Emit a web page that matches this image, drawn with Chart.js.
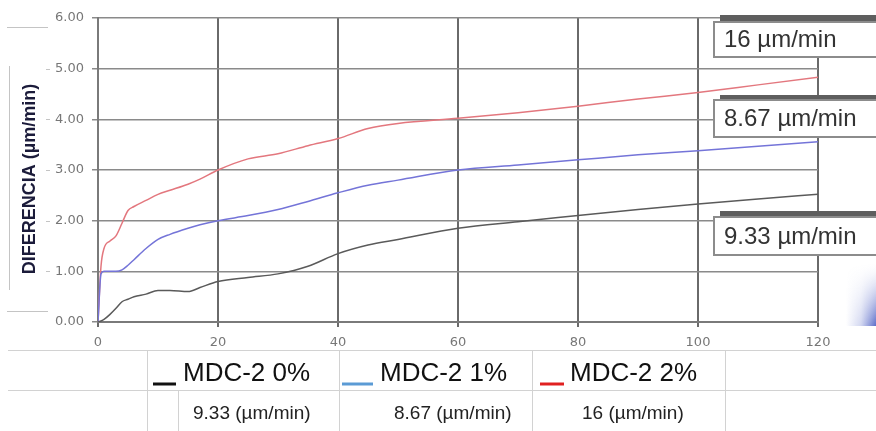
<!DOCTYPE html>
<html>
<head>
<meta charset="utf-8">
<script src="https://cdn.jsdelivr.net/npm/chart.js@4.4.1/dist/chart.umd.min.js"></script>
<style>
  html, body { margin: 0; padding: 0; background: #fff; }
  #wrap { width: 876px; height: 431px; }
</style>
</head>
<body>
<div id="wrap"><canvas id="chart" width="876" height="431"></canvas></div>
<script>
// minutes sampled along the curves
const minutes = [0, 0.5, 1, 2, 3, 4, 5, 6, 8, 10, 12, 15, 17, 20, 25, 30, 35, 40, 45, 50, 60, 70, 80, 90, 100, 110, 120];

// DIFERENCIA (µm/min) per series
const mdc0 = [0, 0.02, 0.05, 0.15, 0.27, 0.4, 0.45, 0.5, 0.55, 0.62, 0.62, 0.6, 0.68, 0.8, 0.88, 0.95, 1.1, 1.35, 1.52, 1.63, 1.85, 1.98, 2.1, 2.22, 2.33, 2.43, 2.52];
const mdc1 = [0, 0.95, 1.0, 1.0, 1.0, 1.03, 1.12, 1.23, 1.45, 1.63, 1.73, 1.85, 1.92, 2.0, 2.1, 2.22, 2.38, 2.55, 2.7, 2.8, 3.0, 3.1, 3.2, 3.3, 3.38, 3.47, 3.56];
const mdc2 = [0, 1.1, 1.45, 1.6, 1.7, 1.95, 2.2, 2.28, 2.4, 2.52, 2.6, 2.72, 2.82, 3.0, 3.22, 3.32, 3.48, 3.62, 3.82, 3.92, 4.02, 4.13, 4.26, 4.4, 4.53, 4.68, 4.83];

const seriesNames = ['MDC-2 0%', 'MDC-2 1%', 'MDC-2 2%'];
const rateLabels = ['9.33 (µm/min)', '8.67 (µm/min)', '16 (µm/min)'];
const calloutLabels = ['16 µm/min', '8.67 µm/min', '9.33 µm/min'];
const xTicks = [0, 20, 40, 60, 80, 100, 120];
const yTicks = [0, 1, 2, 3, 4, 5, 6];

function pts(ys) {
  return minutes.map((m, i) => ({ x: m, y: ys[i] }));
}

function line(ctx, x1, y1, x2, y2) {
  ctx.beginPath();
  ctx.moveTo(x1, y1);
  ctx.lineTo(x2, y2);
  ctx.stroke();
}

// title, callout boxes and the legend table under the plot
const extras = {
  id: 'extras',
  afterDraw(chart) {
    const ctx = chart.ctx;
    const yScale = chart.scales.y;
    ctx.save();

    // bracket around the axis title
    ctx.strokeStyle = '#c4c4c4';
    ctx.lineWidth = 1;
    line(ctx, 7, 27.5, 48, 27.5);
    line(ctx, 7, 311.5, 48, 311.5);
    line(ctx, 9.5, 66, 9.5, 290);
    [1, 2, 3, 4, 5].forEach(v => {
      const y = Math.round(yScale.getPixelForValue(v)) + 0.5;
      line(ctx, 46, y, 50, y);
    });

    ctx.translate(30, 179);
    ctx.rotate(-Math.PI / 2);
    ctx.fillStyle = '#1b1b3a';
    ctx.font = 'bold 18px "Liberation Sans", Arial, sans-serif';
    ctx.textAlign = 'center';
    ctx.textBaseline = 'middle';
    ctx.fillText('DIFERENCIA (µm/min)', 0, 0);
    ctx.setTransform(1, 0, 0, 1, 0, 0);

    // callout boxes on the right
    const boxes = [
      { bar: 15, top: 22, bottom: 57 },
      { bar: 95, top: 100, bottom: 137 },
      { bar: 211, top: 217, bottom: 255 }
    ];
    boxes.forEach((b, i) => {
      ctx.fillStyle = '#fff';
      ctx.fillRect(713, b.top, 170, b.bottom - b.top);
      ctx.fillStyle = '#5e5e5e';
      ctx.fillRect(720, b.bar, 160, b.top - b.bar);
      ctx.strokeStyle = '#8c8c8c';
      ctx.lineWidth = 2;
      ctx.beginPath();
      ctx.moveTo(890, b.bottom);
      ctx.lineTo(714, b.bottom);
      ctx.lineTo(714, b.top);
      ctx.lineTo(890, b.top);
      ctx.stroke();
      ctx.fillStyle = '#333';
      ctx.font = '24px "Liberation Sans", Arial, sans-serif';
      ctx.textAlign = 'left';
      ctx.textBaseline = 'middle';
      ctx.fillText(calloutLabels[i], 724, (b.top + b.bottom) / 2 + 1);
    });

    // soft blue shading in the corner, stronger towards the bottom right
    const g = ctx.createLinearGradient(846, 0, 876, 0);
    g.addColorStop(0, 'rgba(70,90,195,0)');
    g.addColorStop(0.5, 'rgba(70,90,195,0.25)');
    g.addColorStop(1, 'rgba(60,80,190,0.85)');
    ctx.fillStyle = g;
    for (let y = 262; y < 326; y++) {
      ctx.globalAlpha = Math.pow((y - 262) / 64, 1.6);
      ctx.fillRect(846, y, 30, 1);
    }
    ctx.globalAlpha = 1;

    // legend table
    ctx.strokeStyle = '#d2d2d2';
    ctx.lineWidth = 1;
    line(ctx, 8, 350.5, 876, 350.5);
    line(ctx, 8, 390.5, 876, 390.5);
    [147.5, 339.5, 532.5, 725.5].forEach(x => line(ctx, x, 350, x, 431));
    line(ctx, 178.5, 391, 178.5, 431);

    const swatches = [
      { x1: 153, x2: 176, color: '#111' },
      { x1: 342, x2: 373, color: '#5b9bd5' },
      { x1: 540, x2: 564, color: '#e02020' }
    ];
    const nameX = [183, 380, 570];
    const rateX = [193, 394, 582];
    swatches.forEach((s, i) => {
      ctx.strokeStyle = s.color;
      ctx.lineWidth = 3;
      line(ctx, s.x1, 384, s.x2, 384);
      ctx.fillStyle = '#111';
      ctx.font = '26px "Liberation Sans", Arial, sans-serif';
      ctx.textAlign = 'left';
      ctx.textBaseline = 'alphabetic';
      ctx.fillText(seriesNames[i], nameX[i], 381);
      ctx.fillStyle = '#222';
      ctx.font = '19px "Liberation Sans", Arial, sans-serif';
      ctx.fillText(rateLabels[i], rateX[i], 419);
    });

    ctx.restore();
  }
};

const ctx = document.getElementById('chart');
new Chart(ctx, {
  type: 'line',
  data: {
    datasets: [
      { label: seriesNames[0], data: pts(mdc0), borderColor: '#5a5a5a' },
      { label: seriesNames[1], data: pts(mdc1), borderColor: '#7474d8' },
      { label: seriesNames[2], data: pts(mdc2), borderColor: '#e3777e' }
    ].map(d => Object.assign(d, {
      borderWidth: 1.5,
      pointRadius: 0,
      fill: false,
      cubicInterpolationMode: 'monotone'
    }))
  },
  options: {
    responsive: false,
    animation: false,
    devicePixelRatio: 1,
    layout: { padding: { left: 0, top: 18, right: 58, bottom: 79 } },
    plugins: { legend: { display: false }, tooltip: { enabled: false } },
    scales: {
      x: {
        type: 'linear',
        min: 0,
        max: 120,
        afterFit: s => { s.height = 30; },
        afterBuildTicks: s => { s.ticks = xTicks.map(v => ({ value: v })); },
        grid: { color: '#6a6a6a', lineWidth: 2, tickLength: 5, drawTicks: true },
        border: { color: '#7a7a7a', width: 2 },
        ticks: {
          padding: 8,
          color: '#777',
          font: { family: '"DejaVu Sans", Verdana, sans-serif', size: 13 }
        }
      },
      y: {
        min: 0,
        max: 6,
        afterFit: s => { s.width = 98; },
        afterBuildTicks: s => { s.ticks = yTicks.map(v => ({ value: v })); },
        grid: { color: '#8a8a8a', lineWidth: 1.5, tickLength: 6 },
        border: { color: '#7a7a7a', width: 2 },
        ticks: {
          padding: 8,
          color: '#777',
          font: { family: '"DejaVu Sans", Verdana, sans-serif', size: 13 },
          callback: v => v.toFixed(2)
        }
      }
    }
  },
  plugins: [extras]
});
</script>
</body>
</html>
